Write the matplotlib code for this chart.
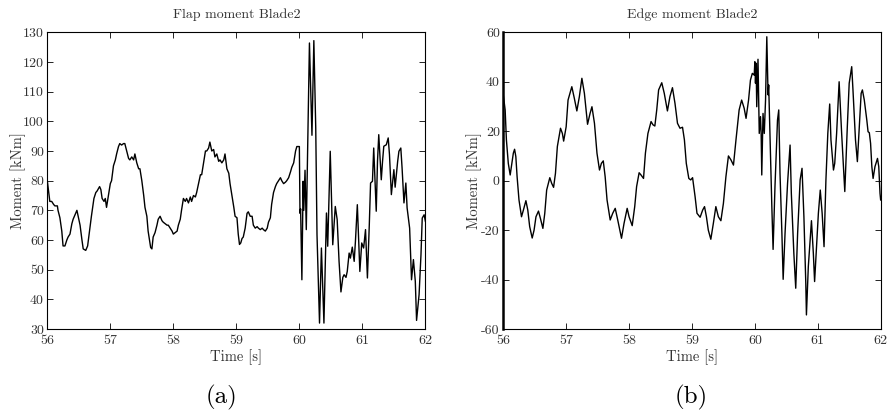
#!/usr/bin/env python3

import matplotlib
matplotlib.use("Agg")
import matplotlib.pyplot as plt

# Flap moment, Blade 2
flap_t = [
    56.00, 56.04, 56.07, 56.10, 56.12, 56.16, 56.17, 56.20, 56.23, 56.25,
    56.28, 56.31, 56.33, 56.36, 56.39, 56.41, 56.47, 56.49, 56.52, 56.55,
    56.57, 56.61, 56.64, 56.67, 56.70, 56.74, 56.77, 56.79, 56.83, 56.85,
    56.87, 56.90, 56.92, 56.94, 56.97, 57.00, 57.02, 57.05, 57.08, 57.10,
    57.13, 57.15, 57.18, 57.21, 57.23, 57.26, 57.29, 57.31, 57.34, 57.37,
    57.39, 57.42, 57.45, 57.47, 57.50, 57.53, 57.55, 57.58, 57.60, 57.64,
    57.66, 57.68, 57.71, 57.74, 57.76, 57.79, 57.82, 57.84, 57.87, 57.90,
    57.92, 57.95, 57.98, 58.00, 58.03, 58.06, 58.08, 58.11, 58.13, 58.16,
    58.19, 58.21, 58.24, 58.27, 58.29, 58.32, 58.35, 58.37, 58.40, 58.43,
    58.45, 58.48, 58.51, 58.53, 58.56, 58.58, 58.61, 58.64, 58.66, 58.69,
    58.72, 58.74, 58.77, 58.80, 58.82, 58.85, 58.88, 58.90, 58.93, 58.96,
    58.98, 59.01, 59.03, 59.05, 59.07, 59.09, 59.11, 59.14, 59.17, 59.19,
    59.22, 59.25, 59.27, 59.30, 59.33, 59.35, 59.38, 59.41, 59.43, 59.46,
    59.49, 59.51, 59.54, 59.56, 59.59, 59.62, 59.64, 59.67, 59.70, 59.72,
    59.75, 59.78, 59.80, 59.83, 59.86, 59.88, 59.91, 59.94, 59.96, 60.00,
    60.01, 60.02, 60.04, 60.06, 60.07, 60.09, 60.11, 60.16, 60.20, 60.23,
    60.26, 60.28, 60.32, 60.35, 60.39, 60.43, 60.45, 60.49, 60.53, 60.57,
    60.60, 60.63, 60.66, 60.69, 60.71, 60.74, 60.76, 60.79, 60.81, 60.84,
    60.87, 60.89, 60.92, 60.96, 60.99, 61.02, 61.05, 61.08, 61.11, 61.13,
    61.16, 61.18, 61.22, 61.24, 61.26, 61.30, 61.32, 61.34, 61.38, 61.41,
    61.43, 61.46, 61.50, 61.52, 61.56, 61.58, 61.61, 61.63, 61.66, 61.69,
    61.71, 61.75, 61.77, 61.78, 61.81, 61.84, 61.86, 61.90, 61.93, 61.95,
    61.98, 62.00,
]
flap_m = [
    80, 73, 73, 72, 71.5, 71.5, 70, 67.5, 63, 58,
    58, 60, 61, 62, 65.5, 67, 70, 68, 65, 60,
    57, 56.5, 58, 63, 68, 74, 76, 76.5, 78, 77,
    74, 73, 74, 71, 75, 79, 80, 85, 87, 89,
    91.5, 92.5, 92, 92.5, 92.5, 90, 87.5, 87, 88, 87,
    89, 86, 84, 84, 80, 75, 71, 68, 63, 57.5,
    57, 61, 62.5, 65, 67, 68, 66.5, 66, 65.5, 65,
    65, 64, 63, 62, 62.5, 63, 65, 67, 70, 74,
    73, 74, 72.5, 74.5, 73, 75, 74.5, 76, 79, 82,
    82, 86, 90, 90, 91, 93, 90, 90.5, 88, 89,
    86.5, 87, 86, 87, 89, 84, 82.5, 79, 75, 71,
    68, 67.5, 62, 58.5, 59, 60.5, 61, 64, 69, 69.5,
    68, 68, 65, 64, 64.5, 64, 63.5, 64, 63.5, 63,
    64, 66, 67.5, 72, 76, 78, 79, 80, 81, 80,
    79, 79.5, 80, 81, 83, 84.5, 86, 90, 91.5, 91.5,
    69, 70.5, 46.6, 79.8, 70, 83.5, 63.5, 126.4, 95.3, 127.2,
    97.8, 61.8, 32, 57.3, 32, 69.1, 57.9, 89.9, 58.4, 71.3,
    66.9, 52.8, 42.5, 47.4, 48.3, 47.4, 49.4, 55.6, 53.9, 57.6,
    52.8, 59.6, 71.9, 49.4, 59, 57.3, 63.5, 47.2, 65.2, 79.2,
    79.8, 91, 69.7, 86.5, 95.5, 80.3, 86.5, 91.6, 92.1, 94.4,
    88.8, 75.3, 83.7, 77.8, 86.5, 89.9, 91, 84.3, 72.5, 79.2,
    70.8, 64, 52.8, 46.6, 53.4, 46.1, 32.9, 41.6, 55, 67.4,
    68.5, 66.3,
]

# Edge moment, Blade 2
edge_t = [
    56.00, 56.03, 56.05, 56.08, 56.11, 56.13, 56.16, 56.18, 56.20, 56.22,
    56.25, 56.29, 56.32, 56.36, 56.39, 56.42, 56.46, 56.49, 56.52, 56.56,
    56.59, 56.63, 56.66, 56.69, 56.74, 56.77, 56.80, 56.83, 56.86, 56.91,
    56.94, 56.96, 57.00, 57.03, 57.09, 57.13, 57.17, 57.21, 57.25, 57.29,
    57.34, 57.38, 57.41, 57.45, 57.49, 57.53, 57.56, 57.59, 57.62, 57.65,
    57.70, 57.74, 57.78, 57.82, 57.88, 57.92, 57.97, 58.00, 58.05, 58.09,
    58.12, 58.16, 58.19, 58.23, 58.26, 58.30, 58.35, 58.38, 58.41, 58.44,
    58.47, 58.52, 58.56, 58.61, 58.65, 58.69, 58.73, 58.77, 58.81, 58.85,
    58.88, 58.91, 58.95, 58.98, 59.01, 59.05, 59.08, 59.13, 59.17, 59.20,
    59.23, 59.26, 59.30, 59.34, 59.38, 59.42, 59.46, 59.50, 59.54, 59.58,
    59.62, 59.66, 59.70, 59.75, 59.79, 59.83, 59.86, 59.90, 59.93, 59.96,
    59.99, 60.00, 60.01, 60.02, 60.03, 60.05, 60.07, 60.09, 60.10, 60.11,
    60.13, 60.15, 60.17, 60.19, 60.21, 60.22, 60.24, 60.27, 60.29, 60.32,
    60.36, 60.38, 60.40, 60.43, 60.45, 60.48, 60.52, 60.56, 60.58, 60.62,
    60.65, 60.68, 60.72, 60.75, 60.78, 60.81, 60.82, 60.85, 60.88, 60.90,
    60.93, 60.95, 60.98, 61.01, 61.04, 61.07, 61.10, 61.13, 61.16, 61.19,
    61.21, 61.25, 61.27, 61.30, 61.34, 61.38, 61.43, 61.47, 61.50, 61.54,
    61.56, 61.60, 61.63, 61.66, 61.69, 61.71, 61.74, 61.78, 61.80, 61.82,
    61.84, 61.86, 61.88, 61.91, 61.95, 61.97, 61.99, 62.00,
]
edge_m = [
    34.7, 28.6, 16.5, 7.0, 2.3, 5.7, 11.1, 12.7, 9.7, 1.6,
    -7.8, -14.6, -11.9, -8.1, -11.9, -18.6, -23.2, -20.0, -14.6, -12.3,
    -15.2, -19.3, -13.2, -3.8, 1.2, -1.1, -2.7, 3.0, 13.8, 21.2,
    19.1, 16.0, 21.8, 32.6, 38.0, 33.3, 28.2, 34.0, 41.4, 35.3,
    22.8, 27.2, 29.9, 23.2, 11.1, 4.3, 7.0, 8.0, 1.6, -7.8,
    -15.9, -13.2, -11.2, -15.9, -23.3, -17.3, -11.2, -14.6, -18.2, -10.5,
    -2.4, 3.2, 2.3, 0.9, 11.1, 19.1, 23.9, 22.6, 22.1, 28.6,
    36.7, 39.6, 35.3, 28.2, 34.0, 37.6, 31.3, 23.2, 21.2, 21.6,
    16.5, 7.0, 0.9, 0.3, 1.2, -6.5, -13.2, -14.8, -11.9, -10.5,
    -14.6, -20.0, -23.7, -17.3, -10.5, -14.6, -16.2, -9.2, 1.6, 10.0,
    8.4, 6.3, 16.5, 28.6, 32.6, 29.3, 25.2, 32.6, 40.7, 43.4,
    42.7, 48.1, 39.4, 47.5, 29.9, 49.1, 19.1, 25.9, 19.1, 2.3,
    27.2, 19.1, 32.6, 58.2, 34.7, 38.7, 19.1, -10.5, -27.8, -2.4,
    24.5, 28.6, 3.0, -21.3, -39.9, -21.3, -1.1, 14.4, -5.1, -29.4,
    -43.5, -21.3, 0.3, 5.0, -14.6, -41.5, -54.3, -34.8, -24.0, -16.2,
    -29.4, -40.8, -26.7, -13.2, -3.8, -13.2, -26.7, 0.3, 19.1, 31.0,
    16.5, 4.3, 7.0, 19.1, 40.0, 19.1, -4.4, 21.8, 39.4, 46.1,
    36.7, 16.5, 7.7, 21.8, 35.3, 36.7, 32.6, 24.5, 19.8, 19.4,
    15.1, 5.7, 0.9, 5.7, 9.0, 5.7, -5.1, -7.8,
]

x_ticks = [56, 57, 58, 59, 60, 61, 62]
flap_yticks = [30, 40, 50, 60, 70, 80, 90, 100, 110, 120, 130]
edge_yticks = [-60, -40, -20, 0, 20, 40, 60]


def style_axis(ax, title, yticks, ylabelpad):
    ax.set_xlim(56, 62)
    ax.set_ylim(yticks[0], yticks[-1])
    ax.set_xticks(x_ticks)
    ax.set_yticks(yticks)
    ax.tick_params(direction="in", top=True, right=True, length=4,
                   width=0.6, labelsize=10, labelcolor="#333333")
    ax.tick_params(axis="x", pad=4)
    ax.tick_params(axis="y", pad=2.5)
    for sp in ax.spines.values():
        sp.set_linewidth(0.8)
    ax.set_title(title, fontsize=10, color="#333333", pad=10)
    ax.set_xlabel("Time [s]", fontsize=10.5, color="#333333", labelpad=2)
    ax.set_ylabel("Moment [kNm]", fontsize=10.5, color="#333333",
                  labelpad=ylabelpad)


def main():
    plt.rcParams["font.family"] = ["cmr10", "DejaVu Serif"]
    plt.rcParams["axes.unicode_minus"] = False

    fig = plt.figure(figsize=(8.89, 4.18), dpi=100)
    ax1 = fig.add_axes([0.0532, 0.2129, 0.4253, 0.7098])
    ax2 = fig.add_axes([0.5661, 0.2129, 0.4245, 0.7098])

    ax1.plot(flap_t, flap_m, color="black", linewidth=1.0)
    style_axis(ax1, "Flap moment Blade2", flap_yticks, -2)

    ax2.plot(edge_t, edge_m, color="black", linewidth=1.0)
    style_axis(ax2, "Edge moment Blade2", edge_yticks, -0.5)
    ax2.spines["left"].set_linewidth(1.8)

    fig.text(0.249, 0.048, "(a)", fontsize=18, ha="center", va="center")
    fig.text(0.778, 0.048, "(b)", fontsize=18, ha="center", va="center")

    fig.savefig("out.png", dpi=100)
    plt.close(fig)


if __name__ == "__main__":
    main()
